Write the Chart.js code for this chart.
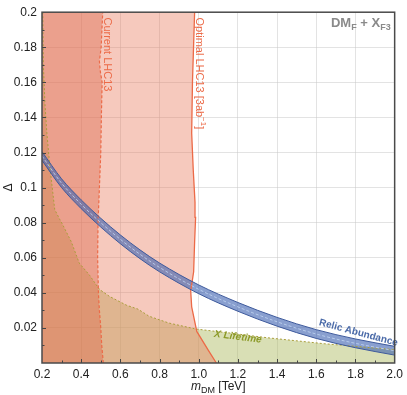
<!DOCTYPE html>
<html>
<head>
<meta charset="utf-8">
<script src="https://cdn.jsdelivr.net/npm/chart.js@4.4.1/dist/chart.umd.min.js"></script>
<style>
  html, body { margin: 0; padding: 0; background: #fff; }
  #wrap { width: 407px; height: 395px; position: relative; }
</style>
</head>
<body>
<div id="wrap"><canvas id="chart-canvas"></canvas></div>
<script>
// axis ticks
const xTickValues = [0.2, 0.4, 0.6, 0.8, 1.0, 1.2, 1.4, 1.6, 1.8, 2.0];
const xTickLabels = ['0.2', '0.4', '0.6', '0.8', '1.0', '1.2', '1.4', '1.6', '1.8', '2.0'];
const yTickValues = [0.02, 0.04, 0.06, 0.08, 0.10, 0.12, 0.14, 0.16, 0.18, 0.20];
const yTickLabels = ['0.02', '0.04', '0.06', '0.08', '0.1', '0.12', '0.14', '0.16', '0.18', '0.2'];

// Current LHC13 exclusion boundary (mass as a function of Delta)
const currentDelta = [0, 0.01, 0.02, 0.03, 0.04, 0.06, 0.08, 0.10, 0.12, 0.14, 0.16, 0.166, 0.172, 0.18, 0.20];
const currentMass  = [0.513, 0.505, 0.500, 0.493, 0.488, 0.484, 0.486, 0.493, 0.500, 0.503, 0.507, 0.498, 0.493, 0.502, 0.510];

// Optimal LHC13 [3ab^-1] reach
const optimalDelta = [0, 0.007, 0.018, 0.032, 0.041, 0.052, 0.069, 0.083, 0.0915, 0.11, 0.131, 0.16, 0.182, 0.20];
const optimalMass  = [1.09, 1.05, 0.99, 0.964, 0.959, 0.974, 0.979, 0.984, 0.981, 0.972, 0.964, 0.968, 0.974, 0.979];

// X lifetime excluded region (Delta as a function of mass)
const lifetimeMass  = [0.204, 0.207, 0.215, 0.225, 0.24, 0.265, 0.29, 0.305, 0.35, 0.39, 0.443, 0.483, 0.493, 0.544, 0.63, 0.69, 0.746, 0.847, 0.984, 1.15, 1.35, 1.64, 2.0];
const lifetimeDelta = [0.2, 0.17, 0.148, 0.131, 0.112, 0.0875, 0.082, 0.079, 0.069, 0.057, 0.050, 0.0436, 0.042, 0.038, 0.033, 0.0307, 0.0267, 0.0228, 0.0194, 0.0172, 0.0144, 0.011, 0.0076];

// Relic abundance band
const relicMass   = [0.2, 0.3, 0.4, 0.5, 0.6, 0.7, 0.8, 1.0, 1.2, 1.4, 1.6, 1.8, 2.0];
const relicUpper  = [0.1205, 0.1050, 0.0930, 0.0825, 0.0730, 0.0645, 0.0570, 0.0445, 0.0345, 0.0260, 0.0190, 0.0137, 0.0095];
const relicCenter = [0.1180, 0.1025, 0.0905, 0.0800, 0.0705, 0.0620, 0.0545, 0.0420, 0.0320, 0.0235, 0.0165, 0.0112, 0.0070];
const relicLower  = [0.1155, 0.1000, 0.0880, 0.0775, 0.0680, 0.0595, 0.0520, 0.0395, 0.0295, 0.0210, 0.0140, 0.0087, 0.0045];

const pts = (xs, ys) => xs.map((x, i) => ({ x: x, y: ys[i] }));

const RED = '#ec6a47';
const BLUE_EDGE = '#3e5a9c';
const OLIVE = '#aa9e3c';

// labels, inner ticks and frame
const decorPlugin = {
    id: 'decor',
    afterDatasetsDraw(chart) {
        const ctx = chart.ctx;
        const xs = chart.scales.x, ys = chart.scales.y;
        const area = chart.chartArea;
        ctx.save();

        // Current LHC13
        ctx.save();
        ctx.translate(xs.getPixelForValue(0.532), ys.getPixelForValue(0.197));
        ctx.rotate(Math.PI / 2);
        ctx.fillStyle = RED;
        ctx.font = '11px "Liberation Sans", Arial, sans-serif';
        ctx.textAlign = 'left';
        ctx.textBaseline = 'middle';
        ctx.fillText('Current LHC13', 0, 0);
        ctx.restore();

        // Optimal LHC13 [3ab^-1]
        ctx.save();
        ctx.translate(xs.getPixelForValue(1.002), ys.getPixelForValue(0.197));
        ctx.rotate(Math.PI / 2);
        ctx.fillStyle = RED;
        ctx.textBaseline = 'middle';
        ctx.font = '11px "Liberation Sans", Arial, sans-serif';
        let t1 = 'Optimal LHC13 [3ab';
        ctx.fillText(t1, 0, 0);
        let w = ctx.measureText(t1).width;
        ctx.font = '8px "Liberation Sans", Arial, sans-serif';
        ctx.fillText('\u22121', w, -4);
        w += ctx.measureText('\u22121').width;
        ctx.font = '11px "Liberation Sans", Arial, sans-serif';
        ctx.fillText(']', w, 0);
        ctx.restore();

        // DM_F + X_F3
        ctx.save();
        ctx.fillStyle = '#8a8a8a';
        ctx.textBaseline = 'alphabetic';
        const big = 'bold 13px "Liberation Sans", Arial, sans-serif';
        const small = 'bold 9px "Liberation Sans", Arial, sans-serif';
        const parts = [['DM', big, 0], ['F', small, 3], [' + X', big, 0], ['F3', small, 3]];
        let total = 0;
        parts.forEach(p => { ctx.font = p[1]; total += ctx.measureText(p[0]).width; });
        let px = area.right - 4 - total;
        const py = area.top + 15;
        parts.forEach(p => {
            ctx.font = p[1];
            ctx.fillText(p[0], px, py + p[2]);
            px += ctx.measureText(p[0]).width;
        });
        ctx.restore();

        // Relic Abundance
        ctx.save();
        ctx.translate(xs.getPixelForValue(1.815), ys.getPixelForValue(0.0172));
        ctx.rotate(15 * Math.PI / 180);
        ctx.fillStyle = '#4a6aa8';
        ctx.font = 'bold 10px "Liberation Sans", Arial, sans-serif';
        ctx.textAlign = 'center';
        ctx.textBaseline = 'middle';
        ctx.fillText('Relic Abundance', 0, 0);
        ctx.restore();

        // X Lifetime
        ctx.save();
        ctx.translate(xs.getPixelForValue(1.2), ys.getPixelForValue(0.0148));
        ctx.rotate(7 * Math.PI / 180);
        ctx.fillStyle = '#8c9a28';
        ctx.font = 'italic bold 10px "Liberation Sans", Arial, sans-serif';
        ctx.textAlign = 'center';
        ctx.textBaseline = 'middle';
        ctx.fillText('X Lifetime', 0, 0);
        ctx.restore();

        ctx.restore();
    },
    afterDraw(chart) {
        const ctx = chart.ctx;
        const xs = chart.scales.x, ys = chart.scales.y;
        const area = chart.chartArea;
        ctx.save();
        // inner ticks on left and bottom
        ctx.strokeStyle = '#444';
        ctx.lineWidth = 1;
        ctx.beginPath();
        for (let v = 0.01; v < 0.2; v += 0.01) {
            const y = Math.round(ys.getPixelForValue(v)) + 0.5;
            const major = Math.abs(Math.round(v * 100) % 2) === 0;
            ctx.moveTo(area.left, y);
            ctx.lineTo(area.left + (major ? 4 : 2.5), y);
        }
        for (let v = 0.3; v < 2.0; v += 0.1) {
            const x = Math.round(xs.getPixelForValue(v)) + 0.5;
            const major = Math.round(v * 10) % 2 === 0;
            ctx.moveTo(x, area.bottom);
            ctx.lineTo(x, area.bottom - (major ? 4 : 2.5));
        }
        ctx.stroke();
        // frame
        ctx.strokeStyle = '#4a4a4a';
        ctx.lineWidth = 1.5;
        ctx.strokeRect(area.left, area.top, area.right - area.left, area.bottom - area.top);

        // axis titles
        ctx.fillStyle = '#222';
        ctx.textBaseline = 'alphabetic';
        const f12 = '12px "Liberation Sans", Arial, sans-serif';
        const f12i = 'italic 12px "Liberation Sans", Arial, sans-serif';
        const f9 = '9px "Liberation Sans", Arial, sans-serif';
        const segs = [['m', f12i, 0], ['DM', f9, 3], [' [TeV]', f12, 0]];
        let total = 0;
        segs.forEach(s => { ctx.font = s[1]; total += ctx.measureText(s[0]).width; });
        let tx = (area.left + area.right) / 2 - total / 2;
        segs.forEach(s => {
            ctx.font = s[1];
            ctx.fillText(s[0], tx, 390 + s[2]);
            tx += ctx.measureText(s[0]).width;
        });

        ctx.save();
        ctx.translate(12, ys.getPixelForValue(0.1));
        ctx.rotate(-Math.PI / 2);
        ctx.font = f12;
        ctx.textAlign = 'center';
        ctx.fillText('\u0394', 0, 0);
        ctx.restore();

        ctx.restore();
    }
};

const canvas = document.getElementById('chart-canvas');

new Chart(canvas, {
    type: 'line',
    data: {
        datasets: [
            {
                // relic centre line
                data: pts(relicMass, relicCenter),
                indexAxis: 'x',
                borderColor: 'rgba(190,210,240,0.85)',
                borderWidth: 1,
                borderDash: [3, 2],
                cubicInterpolationMode: 'monotone',
                fill: false
            },
            {
                data: pts(relicMass, relicUpper),
                indexAxis: 'x',
                borderColor: BLUE_EDGE,
                borderWidth: 1,
                cubicInterpolationMode: 'monotone',
                backgroundColor: 'rgba(65,100,178,0.62)',
                fill: '+1'
            },
            {
                data: pts(relicMass, relicLower),
                indexAxis: 'x',
                borderColor: BLUE_EDGE,
                borderWidth: 1,
                cubicInterpolationMode: 'monotone',
                fill: false
            },
            {
                // Current LHC13
                data: pts(currentMass, currentDelta),
                indexAxis: 'y',
                borderColor: RED,
                borderWidth: 1.2,
                borderDash: [3, 2],
                backgroundColor: 'rgba(220,100,70,0.4)',
                fill: { value: 0.2 }
            },
            {
                // Optimal LHC13
                data: pts(optimalMass, optimalDelta),
                indexAxis: 'y',
                borderColor: RED,
                borderWidth: 1.3,
                backgroundColor: 'rgba(232,120,90,0.4)',
                fill: { value: 0.2 }
            },
            {
                // X lifetime
                data: pts(lifetimeMass, lifetimeDelta),
                indexAxis: 'x',
                borderColor: OLIVE,
                borderWidth: 1,
                borderDash: [2, 2],
                backgroundColor: 'rgba(170,185,90,0.45)',
                fill: 'start'
            }
        ]
    },
    options: {
        responsive: true,
        maintainAspectRatio: false,
        animation: false,
        layout: { padding: { top: 7, right: 9, left: 0, bottom: 0 } },
        elements: { point: { radius: 0 }, line: { tension: 0 } },
        plugins: {
            legend: { display: false },
            tooltip: { enabled: false },
            filler: { drawTime: 'beforeDatasetsDraw' }
        },
        scales: {
            x: {
                type: 'linear',
                min: 0.2,
                max: 2.0,
                afterBuildTicks: s => { s.ticks = xTickValues.map(v => ({ value: v })); },
                afterFit: s => { s.height = 32; },
                grid: { color: 'rgba(200,200,200,0.5)', drawTicks: false },
                border: { display: false },
                ticks: {
                    padding: 4,
                    color: '#222',
                    font: { size: 12, family: '"Liberation Sans", Arial, sans-serif' },
                    maxRotation: 0,
                    callback: (v, i) => xTickLabels[i]
                }
            },
            y: {
                type: 'linear',
                min: 0,
                max: 0.2,
                afterBuildTicks: s => { s.ticks = yTickValues.map(v => ({ value: v })); },
                afterFit: s => { s.width = 42; },
                grid: { color: 'rgba(200,200,200,0.5)', drawTicks: false },
                border: { display: false },
                ticks: {
                    padding: 5,
                    color: '#222',
                    font: { size: 12, family: '"Liberation Sans", Arial, sans-serif' },
                    callback: (v, i) => yTickLabels[i]
                }
            }
        }
    },
    plugins: [decorPlugin]
});
</script>
</body>
</html>
